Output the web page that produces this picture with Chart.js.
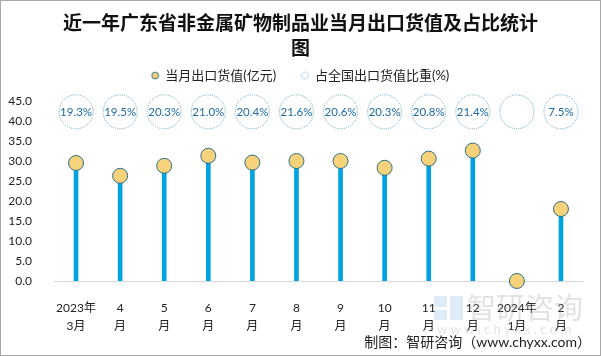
<!DOCTYPE html>
<html>
<head>
<meta charset="utf-8">
<script src="https://cdn.jsdelivr.net/npm/chart.js@4.4.0/dist/chart.umd.min.js"></script>
<style>
html,body{margin:0;padding:0;background:#fff;}
#wrap{width:601px;height:356px;position:relative;}
</style>
</head>
<body>
<div id="wrap"><canvas id="c" width="601" height="356"></canvas></div>
<script>
// ---- data ----
const categories = [["2023年","3月"],["4","月"],["5","月"],["6","月"],["7","月"],["8","月"],["9","月"],["10","月"],["11","月"],["12","月"],["2024年","1月"],["2","月"]];
const exportValues = [29.5, 26.3, 28.8, 31.3, 29.6, 30.0, 30.0, 28.3, 30.6, 32.6, 0.0, 18.0];
const shareValues = [19.3, 19.5, 20.3, 21.0, 20.4, 21.6, 20.6, 20.3, 20.8, 21.4, null, 7.5];
const yTicks = {min: 0, max: 45, step: 5};
const RATIO_ROW = 42.3; // value level (y axis units) where share bubbles sit
const seriesNames = ["当月出口货值(亿元)", "占全国出口货值比重(%)"];

const FONT = "Lato, 'Noto Sans CJK SC', sans-serif";
const CJK = "'Noto Sans CJK SC', sans-serif";

function markerImg(kind){
  const cv = document.createElement('canvas');
  cv.width = 9; cv.height = 9;
  const g = cv.getContext('2d');
  g.beginPath(); g.arc(4.5,4.5,3.4,0,Math.PI*2);
  if(kind === 'fill'){
    g.fillStyle = '#f6d37b'; g.fill();
    g.strokeStyle = '#2f6f87'; g.lineWidth = 1; g.stroke();
  } else {
    g.setLineDash([1,1]);
    g.strokeStyle = '#6aa6c0'; g.lineWidth = 1; g.stroke();
  }
  return cv;
}

const bubblePlugin = {
  id: 'bubbles',
  afterDatasetsDraw(chart){
    const ctx = chart.ctx, xs = chart.scales.x, ys = chart.scales.y;
    const y = ys.getPixelForValue(RATIO_ROW);
    ctx.save();
    shareValues.forEach((v,i)=>{
      const x = xs.getPixelForValue(i);
      ctx.beginPath();
      ctx.arc(x, y, 17, 0, Math.PI*2);
      ctx.setLineDash([1,1.2]);
      ctx.lineWidth = 1;
      ctx.strokeStyle = '#5f9fbb';
      ctx.stroke();
      if(v !== null){
        ctx.setLineDash([]);
        ctx.fillStyle = '#1c6aa3';
        ctx.font = "11.5px " + FONT;
        ctx.textAlign = 'center';
        ctx.textBaseline = 'middle';
        ctx.fillText(v.toFixed(1) + '%', x, y + 0.5);
      }
    });
    ctx.restore();
  }
};

const framePlugin = {
  id: 'frame',
  afterDraw(chart){
    const ctx = chart.ctx;
    ctx.save();
    // watermark
    ctx.fillStyle = 'rgba(150,150,150,0.28)';
    ctx.font = "29px " + CJK;
    ctx.textAlign = 'left';
    ctx.textBaseline = 'middle';
    ctx.fillText('智研咨询', 467, 308);
    ctx.font = "13px " + FONT;
    ctx.fillText('w w w . c h y x x . c o m', 437, 330);
    ctx.fillStyle = 'rgba(150,190,225,0.3)';
    ctx.fillRect(434, 296, 13, 11);
    ctx.fillRect(450, 296, 13, 24);
    ctx.fillRect(434, 310, 13, 10);
    // footer
    ctx.fillStyle = '#222';
    ctx.font = "14px " + FONT;
    ctx.textAlign = 'right';
    ctx.fillText('制图：智研咨询（www.chyxx.com）', 591, 342);
    // border
    ctx.strokeStyle = '#a8a8a8';
    ctx.lineWidth = 1;
    ctx.strokeRect(0.5, 0.5, 600, 355);
    ctx.restore();
  }
};

const legendGapPlugin = {
  id: 'legendGap',
  beforeInit(chart){
    const orig = chart.legend.fit;
    chart.legend.fit = function(){ orig.call(this); this.height += 9; };
  }
};

const imgFill = markerImg('fill'), imgDot = markerImg('dot');

new Chart(document.getElementById('c'), {
  data: {
    labels: categories,
    datasets: [
      {
        type: 'line',
        label: seriesNames[0],
        data: exportValues,
        showLine: false,
        pointRadius: 7.5,
        pointHoverRadius: 7.5,
        pointBackgroundColor: '#f6d37b',
        pointBorderColor: '#2f6f87',
        pointBorderWidth: 1,
        clip: false,
        order: 0
      },
      {
        type: 'bar',
        label: 'stem',
        data: exportValues,
        backgroundColor: '#00a3de',
        barThickness: 4,
        order: 1
      }
    ]
  },
  options: {
    responsive: false,
    animation: false,
    layout: {padding: {top: 0, right: 0, left: 0, bottom: 0}},
    plugins: {
      tooltip: {enabled: false},
      title: {
        display: true,
        text: ['近一年广东省非金属矿物制品业当月出口货值及占比统计', '图'],
        color: '#111',
        font: {family: CJK, size: 19, weight: 'bold', lineHeight: 1.316},
        padding: {top: 10, bottom: 0}
      },
      legend: {
        display: true,
        onClick: null,
        labels: {
          usePointStyle: true,
          boxWidth: 7,
          boxHeight: 7,
          padding: 9,
          color: '#222',
          font: {family: FONT, size: 13},
          generateLabels: () => [
            {text: seriesNames[0] + '　 ', pointStyle: imgFill, fillStyle: '#f6d37b', strokeStyle: '#2f6f87', lineWidth: 0, hidden: false, datasetIndex: 0, fontColor: '#222'},
            {text: seriesNames[1], pointStyle: imgDot, fillStyle: '#fff', strokeStyle: '#6aa6c0', lineWidth: 0, hidden: false, datasetIndex: 1, fontColor: '#222'}
          ]
        }
      }
    },
    scales: {
      x: {
        type: 'category',
        offset: true,
        grid: {display: false},
        border: {display: true, color: '#d9d9d9', width: 1},
        ticks: {color: '#222', font: {family: FONT, size: 12, lineHeight: 1.5}, padding: 10, autoSkip: false, maxRotation: 0, minRotation: 0},
        afterFit: s => { s.height = 75; }
      },
      y: {
        type: 'linear',
        min: yTicks.min,
        max: yTicks.max,
        grid: {display: false},
        border: {display: false},
        ticks: {stepSize: yTicks.step, color: '#222', font: {family: FONT, size: 12}, padding: 14, callback: v => Number(v).toFixed(1)},
        afterFit: s => { s.width = 54; }
      },
      yRight: {
        type: 'linear',
        position: 'right',
        display: true,
        grid: {display: false},
        border: {display: false},
        ticks: {display: false},
        afterFit: s => { s.width = 18; }
      }
    }
  },
  plugins: [legendGapPlugin, bubblePlugin, framePlugin]
});
</script>
</body>
</html>
